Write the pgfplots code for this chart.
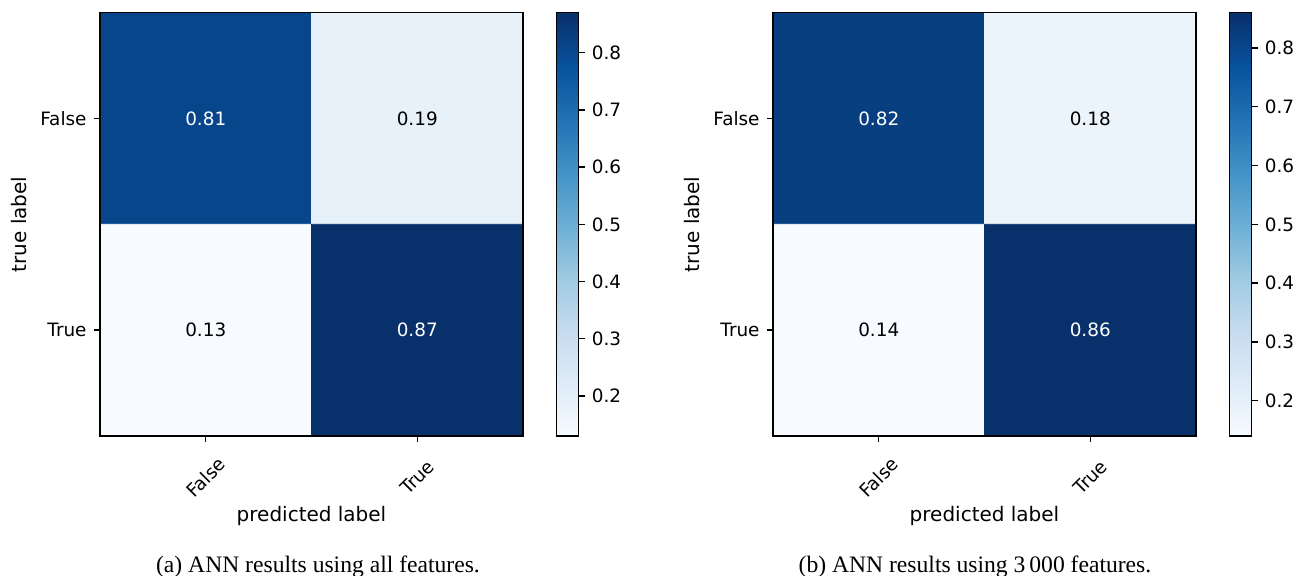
\documentclass[border=0pt]{standalone}
\usepackage{fontspec}
\setmainfont{DejaVu Sans}
\newfontfamily\capfont{Liberation Serif}
\usepackage{pgfplots}
\pgfplotsset{compat=1.18}
\newcommand\mf{\fontsize{9.2pt}{11pt}\selectfont}
\pgfplotsset{
  colormap={blues}{rgb255=(247,251,255) rgb255=(222,235,247) rgb255=(198,219,239) rgb255=(158,202,225) rgb255=(107,174,214) rgb255=(66,146,198) rgb255=(33,113,181) rgb255=(8,81,156) rgb255=(8,48,107)},
  tick label style={font=\mf},
  label style={font=\mf},
  cm/.style={
    scale only axis, width=211.5pt, height=211.65pt,
    anchor=south west,
    xmin=-0.5, xmax=1.5, ymin=-0.5, ymax=1.5, y dir=reverse,
    axis on top,
    xtick={0,1}, ytick={0,1},
    xticklabels={False,True}, yticklabels={False,True},
    tick align=outside, major tick length=3.2pt,
    tick pos=left,
    axis line style={line width=0.7pt},
    every tick/.style={black, line width=0.7pt},
    xticklabel style={yshift=-17.5pt, rotate=45, anchor=center},
    xlabel={predicted label}, ylabel={true label},
    every axis x label/.style={at={(axis description cs:0.5,-0.2025)}, anchor=base},
    every axis y label/.style={at={(axis description cs:-0.1733,0.5)}, rotate=90, anchor=base},
    colormap name=blues,
    colorbar,
    colorbar style={
      at={(parent axis.north east)}, anchor=north west, xshift=8.35pt,
      width=10.8pt, height=211.65pt,
      ytick={0.2,0.3,0.4,0.5,0.6,0.7,0.8},
      yticklabels={0.2,0.3,0.4,0.5,0.6,0.7,0.8},
      tick align=outside, major tick length=3.2pt,
      ytick pos=right, yticklabel pos=right,
      axis line style={line width=0.7pt},
      every tick/.style={black, line width=0.7pt},
    },
  },
}
\begin{document}
\begin{tikzpicture}
\path[use as bounding box] (0,0) rectangle (647.5pt,288pt);
% ---------- panel (a)
\begin{axis}[cm, at={(50pt,70pt)}, point meta min=0.13, point meta max=0.87]
\addplot[matrix plot*, mesh/cols=2, point meta=explicit] coordinates {
  (0,0) [0.81] (1,0) [0.19]
  (0,1) [0.13] (1,1) [0.87]
};
\addplot[only marks, mark=none, point meta=explicit symbolic,
  nodes near coords, nodes near coords align={center},
  every node near coord/.append style={white, font=\mf, anchor=center}]
  coordinates {(0,0) [0.81] (1,1) [0.87]};
\addplot[only marks, mark=none, point meta=explicit symbolic,
  nodes near coords, nodes near coords align={center},
  every node near coord/.append style={black, font=\mf, anchor=center}]
  coordinates {(1,0) [0.19] (0,1) [0.13]};
\end{axis}
% ---------- panel (b)
\begin{axis}[cm, at={(386.5pt,70pt)}, point meta min=0.14, point meta max=0.86]
\addplot[matrix plot*, mesh/cols=2, point meta=explicit] coordinates {
  (0,0) [0.82] (1,0) [0.18]
  (0,1) [0.14] (1,1) [0.86]
};
\addplot[only marks, mark=none, point meta=explicit symbolic,
  nodes near coords, nodes near coords align={center},
  every node near coord/.append style={white, font=\mf, anchor=center}]
  coordinates {(0,0) [0.82] (1,1) [0.86]};
\addplot[only marks, mark=none, point meta=explicit symbolic,
  nodes near coords, nodes near coords align={center},
  every node near coord/.append style={black, font=\mf, anchor=center}]
  coordinates {(1,0) [0.18] (0,1) [0.14]};
\end{axis}
\node[font=\capfont\fontsize{11.8pt}{14pt}\selectfont, anchor=base] at (159pt,1.5pt) {(a) ANN results using all features.};
\node[font=\capfont\fontsize{11.8pt}{14pt}\selectfont, anchor=base] at (487.5pt,1.5pt) {(b) ANN results using 3\,000 features.};
\end{tikzpicture}
\end{document}
